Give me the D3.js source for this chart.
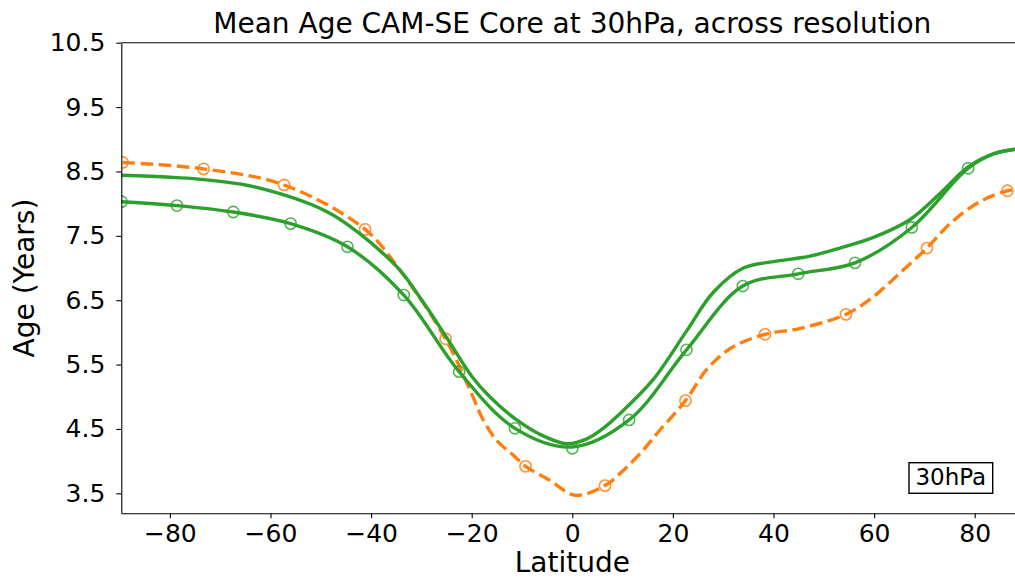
<!DOCTYPE html>
<html><head><meta charset="utf-8">
<script src="https://cdn.jsdelivr.net/npm/d3@7"></script>
<style>body{margin:0;background:#fff} text{font-family:"DejaVu Sans",sans-serif}</style>
</head><body><svg id="c" width="1015" height="580"></svg>
<script>
// ---- data ----
const xTicks = [-80, -60, -40, -20, 0, 20, 40, 60, 80];
const yTicks = [3.5, 4.5, 5.5, 6.5, 7.5, 8.5, 9.5, 10.5];

// orange dashed series
const orangeLat = [-89.4, -73.3, -57.3, -41.2, -34.3, -25.2, -20.2, -17.7, -14.9, -11.7, -9.3, -4.4, 0.5, 6.5, 9.5, 13.5, 17.4, 22.5, 26.7, 31.4, 38.3, 45.2, 54.4, 59.8, 65.1, 70.5, 75.1, 81.0, 86.5, 89.7];
const orangeAge = [8.64, 8.54, 8.29, 7.60, 6.97, 5.90, 5.08, 4.64, 4.31, 4.09, 3.92, 3.70, 3.47, 3.62, 3.81, 4.12, 4.48, 4.94, 5.42, 5.75, 5.97, 6.06, 6.28, 6.55, 6.92, 7.31, 7.69, 8.03, 8.20, 8.23];
const orangeMarkLat = [-89.4, -73.3, -57.3, -41.2, -25.2, -9.3, 6.5, 22.5, 38.3, 54.4, 70.5, 86.5];
const orangeMarkAge = [8.64, 8.54, 8.29, 7.60, 5.90, 3.92, 3.62, 4.94, 5.97, 6.28, 7.31, 8.20];

// green solid series without markers
const greenALat = [-89.7, -80, -74.3, -65, -58.3, -52, -48.2, -44.6, -40, -34.3, -30, -25.3, -20, -16.4, -11.4, -6, -1, 3, 6, 9.5, 16.1, 22.7, 28, 34, 40, 47, 53.2, 60, 67.1, 73, 78.7, 84, 89.7];
const greenAAge = [8.44, 8.41, 8.38, 8.29, 8.16, 7.99, 7.85, 7.67, 7.39, 6.97, 6.51, 5.96, 5.32, 5.00, 4.66, 4.40, 4.27, 4.35, 4.50, 4.74, 5.27, 6.02, 6.62, 7.00, 7.10, 7.18, 7.31, 7.48, 7.75, 8.15, 8.57, 8.78, 8.86];

// green solid series with markers
const greenBLat = [-89.6, -78.6, -67.4, -56.0, -44.7, -33.5, -22.5, -11.4, 0, 11.3, 22.7, 33.9, 44.9, 56.2, 67.5, 78.7, 84, 89.7];
const greenBAge = [8.03, 7.97, 7.87, 7.69, 7.33, 6.58, 5.39, 4.51, 4.22, 4.64, 5.73, 6.72, 6.91, 7.08, 7.63, 8.55, 8.78, 8.86];
const greenBMarkLat = [-89.6, -78.6, -67.4, -56.0, -44.7, -33.5, -22.5, -11.4, 0, 11.3, 22.7, 33.9, 44.9, 56.2, 67.5, 78.7];
const greenBMarkAge = [8.03, 7.97, 7.87, 7.69, 7.33, 6.58, 5.39, 4.51, 4.20, 4.64, 5.73, 6.72, 6.91, 7.08, 7.63, 8.55];

const title = "Mean Age CAM-SE Core at 30hPa, across resolution";
const xLabel = "Latitude";
const yLabel = "Age (Years)";
const boxLabel = "30hPa";

// ---- layout ----
const L = 121.3, R = 1023.3, T = 42.7, B = 513.3;
const ORANGE = "#ff7f0e", GREEN = "#2ca02c";
const svg = d3.select("#c");
const x = d3.scaleLinear().domain([-89.66, 89.66]).range([L, R]);
const y = d3.scaleLinear().domain([3.19, 10.5]).range([B, T]);

svg.append("defs").append("clipPath").attr("id", "clip")
  .append("rect").attr("x", L).attr("y", T).attr("width", R - L).attr("height", B - T);

const plot = svg.append("g").attr("clip-path", "url(#clip)");
const line = d3.line().x(d => x(d[0])).y(d => y(d[1])).curve(d3.curveCatmullRom.alpha(0.5));
const zip = (a, b) => a.map((v, i) => [v, b[i]]);

plot.append("path").datum(zip(orangeLat, orangeAge)).attr("d", line)
  .attr("fill", "none").attr("stroke", ORANGE).attr("stroke-width", 3.4)
  .attr("stroke-dasharray", "12.6,5.5");
plot.selectAll(".om").data(zip(orangeMarkLat, orangeMarkAge)).enter().append("circle")
  .attr("cx", d => x(d[0])).attr("cy", d => y(d[1])).attr("r", 5.6)
  .attr("fill", "none").attr("stroke", ORANGE).attr("stroke-width", 1.6).attr("stroke-opacity", 0.85);

plot.append("path").datum(zip(greenALat, greenAAge)).attr("d", line)
  .attr("fill", "none").attr("stroke", GREEN).attr("stroke-width", 3.4);
plot.append("path").datum(zip(greenBLat, greenBAge)).attr("d", line)
  .attr("fill", "none").attr("stroke", GREEN).attr("stroke-width", 3.4);
plot.selectAll(".gm").data(zip(greenBMarkLat, greenBMarkAge)).enter().append("circle")
  .attr("cx", d => x(d[0])).attr("cy", d => y(d[1])).attr("r", 5.6)
  .attr("fill", "none").attr("stroke", GREEN).attr("stroke-width", 1.6).attr("stroke-opacity", 0.8);

// axes
const xAxis = svg.append("g").attr("transform", `translate(0,${B})`)
  .call(d3.axisBottom(x).tickValues(xTicks).tickSize(5).tickSizeOuter(0).tickPadding(6));
const yAxis = svg.append("g").attr("transform", `translate(${L},0)`)
  .call(d3.axisLeft(y).tickValues(yTicks).tickFormat(d3.format(".1f")).tickSize(5).tickSizeOuter(0).tickPadding(11));
[xAxis, yAxis].forEach(g => {
  g.selectAll("text").attr("font-size", 25).attr("fill", "#000").attr("font-family", "DejaVu Sans");
  g.selectAll("line").attr("stroke", "#000").attr("stroke-width", 1.1);
  g.select(".domain").attr("stroke", "#000").attr("stroke-width", 1.1);
});
svg.append("line").attr("x1", L).attr("x2", R).attr("y1", T).attr("y2", T)
  .attr("stroke", "#000").attr("stroke-width", 1.1);

// texts
svg.append("text").attr("x", (L + 1023.3) / 2).attr("y", 33).attr("text-anchor", "middle")
  .attr("font-size", 28).text(title);
svg.append("text").attr("x", (L + 1023.3) / 2).attr("y", 572).attr("text-anchor", "middle")
  .attr("font-size", 28).text(xLabel);
svg.append("text").attr("transform", `translate(34,${(T + B) / 2}) rotate(-90)`).attr("text-anchor", "middle")
  .attr("font-size", 28).text(yLabel);

// box annotation
const bx = svg.append("g");
bx.append("rect").attr("x", 909).attr("y", 462.7).attr("width", 83.7).attr("height", 30.6)
  .attr("fill", "#fff").attr("stroke", "#000").attr("stroke-width", 1.4);
bx.append("text").attr("x", 950.8).attr("y", 484.5).attr("text-anchor", "middle")
  .attr("font-size", 23).text(boxLabel);
</script></body></html>
